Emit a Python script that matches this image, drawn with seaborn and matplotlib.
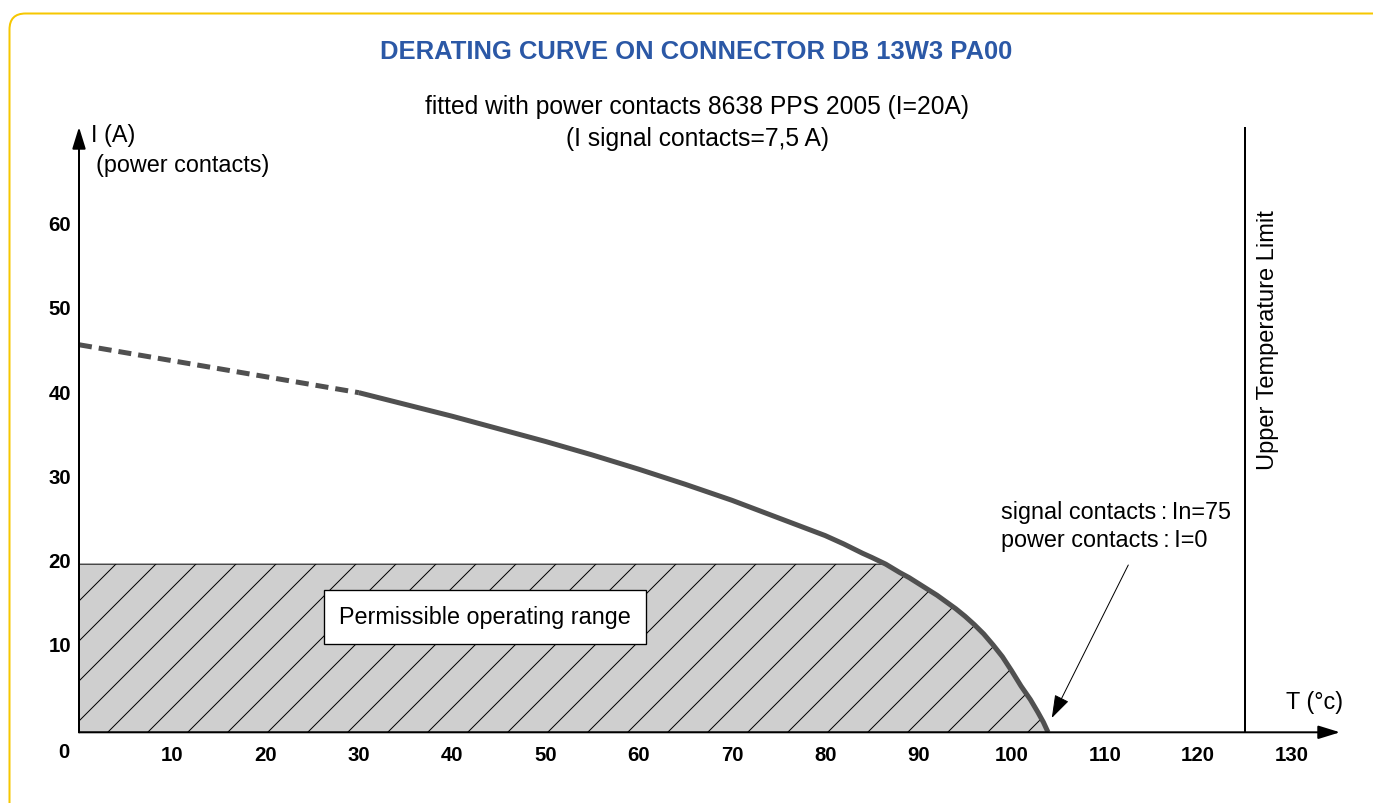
import numpy as np
import matplotlib
matplotlib.use("Agg")
import matplotlib.pyplot as plt
import seaborn as sns
from matplotlib.patches import FancyBboxPatch
from matplotlib.transforms import IdentityTransform, ScaledTranslation

# values
temp_dashed = [0, 30]
current_dashed = [46.1, 40.4]

temp_solid = [30, 35, 40, 45, 50, 55, 60, 65, 70, 75, 80, 82, 84, 85, 86.5,
              88, 89, 90, 91, 92, 93, 94, 95, 96, 97, 98, 99, 100, 101, 102,
              102.8, 103.4, 103.9]
current_solid = [40.4, 39.0, 37.6, 36.1, 34.6, 33.0, 31.3, 29.5, 27.6, 25.5,
                 23.4, 22.4, 21.3, 20.8, 20.0, 19.0, 18.4, 17.7, 17.0, 16.3,
                 15.5, 14.7, 13.8, 12.8, 11.7, 10.4, 9.0, 7.3, 5.5, 3.9,
                 2.4, 1.2, 0.0]

rated_current = 20          # power contacts I=20A
upper_temp_limit = 125
x_ticks = list(range(10, 140, 10))
y_ticks = list(range(10, 70, 10))

TITLE_BLUE = "#2B58A6"
FRAME_YELLOW = "#F6C700"
CURVE_GREY = "#505050"
FILL_GREY = "#CFCFCF"

sns.set_style("white")
plt.rcParams["font.family"] = ["Liberation Sans", "DejaVu Sans"]
plt.rcParams["hatch.linewidth"] = 0.3
for key in ["text.color", "axes.labelcolor", "xtick.color", "ytick.color"]:
    plt.rcParams[key] = "black"

DPI = 240
fig = plt.figure(figsize=(1373 / DPI, 803 / DPI), dpi=DPI)
ax = fig.add_axes([79 / 1373, 70.7 / 803, 1261 / 1373, 605.3 / 803])
ax.set_xlim(0, 135.2)
ax.set_ylim(0, 72)
for s in ax.spines.values():
    s.set_visible(False)

# permissible operating range (hatched)
t_all = np.array([0] + temp_solid)
i_all = np.array([current_dashed[0]] + current_solid)
ax.fill_between(t_all, 0, np.minimum(i_all, rated_current), facecolor=FILL_GREY,
                edgecolor="black", hatch="//", lw=0.3, zorder=1)

# derating curve
sns.lineplot(x=temp_dashed, y=current_dashed, ax=ax, color=CURVE_GREY, lw=1.5,
             linestyle=(0, (2.6, 1.4)), zorder=3)
sns.lineplot(x=temp_solid, y=current_solid, ax=ax, color=CURVE_GREY, lw=1.5,
             solid_capstyle="butt", solid_joinstyle="round", zorder=3)

ax.axvline(upper_temp_limit, color="black", lw=0.6, zorder=2)

# axes with arrow heads
arr = dict(arrowstyle="-|>,head_length=0.55,head_width=0.17", color="black",
           lw=0.6, shrinkA=0, shrinkB=0, mutation_scale=10)
ax.annotate("", xy=(1, 0), xytext=(0, 0), xycoords="axes fraction",
            textcoords="axes fraction", arrowprops=arr, zorder=4)
ax.annotate("", xy=(0, 1), xytext=(0, 0), xycoords="axes fraction",
            textcoords="axes fraction", arrowprops=arr, zorder=4)

ax.set_xticks(x_ticks)
ax.set_yticks(y_ticks)
ax.tick_params(axis="x", direction="in", length=2.4, width=0.6, pad=4.0,
               labelsize=6.1, colors="black")
ax.tick_params(axis="y", direction="in", length=3.9, width=0.6, pad=2.4,
               labelsize=6.1, colors="black")
for lab in ax.get_xticklabels() + ax.get_yticklabels():
    lab.set_fontweight("bold")
for lab in ax.get_yticklabels():
    lab.set_transform(lab.get_transform() + ScaledTranslation(0, 1.2 / 72, fig.dpi_scale_trans))
ax.annotate("0", xy=(0, 0), xytext=(-4.4, -6.2), textcoords="offset points",
            ha="center", va="center", fontsize=6.1, fontweight="bold")

# labels
ax.text(1.3, 71.0, "I (A)", fontsize=7.0, va="center", ha="left")
ax.text(1.8, 67.4, "(power contacts)", fontsize=7.0, va="center", ha="left")
ax.text(132.5, 3.5, "T (°c)", fontsize=7.0, va="center", ha="center")
ax.text(127.5, 46.6, "Upper Temperature Limit", fontsize=7.1, rotation=90,
        va="center", ha="center")
ax.text(98.9, 26.2, "signal contacts\u2009:\u2009In=75", fontsize=7.0, va="center", ha="left")
ax.text(98.9, 22.8, "power contacts\u2009:\u2009I=0", fontsize=7.0, va="center", ha="left")
ax.text(43.5, 13.7, "Permissible operating range", fontsize=7.0, va="center", ha="center",
        bbox=dict(boxstyle="square,pad=0.65", facecolor="white", edgecolor="black", lw=0.4),
        zorder=2)
ax.annotate("", xy=(104.3, 1.7), xytext=(112.5, 19.9),
            arrowprops=dict(arrowstyle="-|>,head_length=0.6,head_width=0.2",
                            color="black", lw=0.3, shrinkA=0, shrinkB=0,
                            mutation_scale=10), zorder=4)

fig.text(696 / 1373, 1 - 52 / 803, "DERATING CURVE ON CONNECTOR DB 13W3 PA00",
         color=TITLE_BLUE, fontsize=7.7, fontweight="bold", ha="center", va="center")
fig.text(697 / 1373, 1 - 107 / 803, "fitted with power contacts 8638 PPS 2005 (I=20A)",
         fontsize=7.4, ha="center", va="center")
fig.text(697 / 1373, 1 - 139 / 803, "(I signal contacts=7,5 A)",
         fontsize=7.4, ha="center", va="center")

# rounded yellow frame
frame = FancyBboxPatch((9.5, -40), 1420, 829.5, boxstyle="round,pad=0,rounding_size=16",
                       transform=IdentityTransform(), facecolor="none",
                       edgecolor=FRAME_YELLOW, lw=0.6)
fig.add_artist(frame)

fig.savefig("out.png", dpi=DPI)
